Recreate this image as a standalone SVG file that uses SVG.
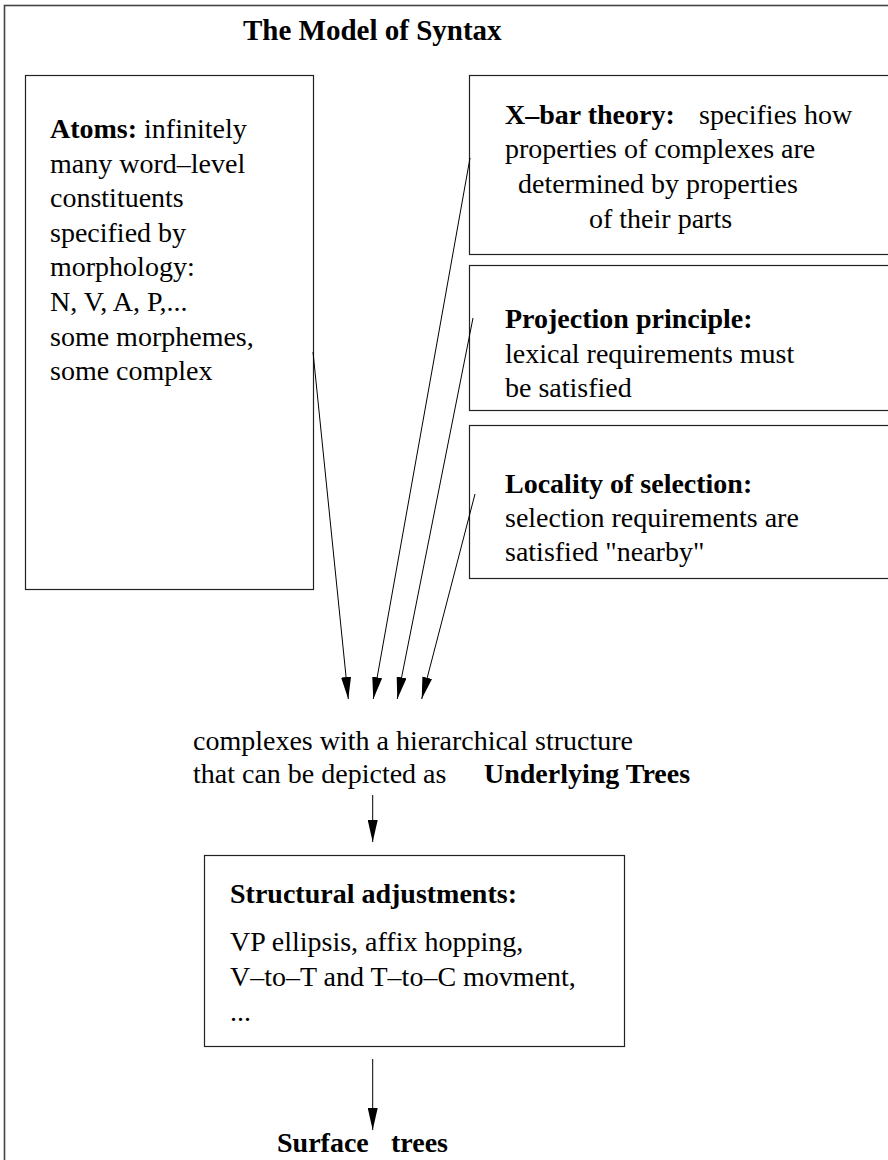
<svg xmlns="http://www.w3.org/2000/svg" width="888" height="1160" viewBox="0 0 888 1160">
<defs>
<style>
.box{fill:#fff;stroke:#222;stroke-width:1.2}
.frame{fill:none;stroke:#444;stroke-width:1.6}
text{font-family:"Liberation Serif","Times New Roman",serif;font-size:28px;fill:#000}
.b{font-weight:bold}
.t{font-size:29px}
.conn{stroke:#000;stroke-width:1;fill:none;marker-end:url(#ah)}
</style>
<marker id="ah" markerUnits="userSpaceOnUse" markerWidth="22" markerHeight="10" refX="22" refY="5" orient="auto">
<path d="M0,0 L22,5 L0,10 z" fill="#000"/>
</marker>
</defs>
<rect width="888" height="1160" fill="#fff"/>
<rect class="frame" x="4.5" y="5.5" width="900" height="1170"/>
<g id="title"><text class="b t" x="243" y="40">The Model of Syntax</text></g>
<g id="atoms">
<rect class="box" x="25.5" y="75.5" width="288" height="514"/>
<text x="50" y="138"><tspan class="b">Atoms:</tspan> infinitely</text>
<text x="50" y="172.6">many word–level</text>
<text x="50" y="207.2">constituents</text>
<text x="50" y="241.8">specified by</text>
<text x="50" y="276.4">morphology:</text>
<text x="50" y="311">N, V, A, P,...</text>
<text x="50" y="345.6">some morphemes,</text>
<text x="50" y="380.2">some complex</text>
</g>
<g id="xbar">
<rect class="box" x="469.5" y="75.5" width="430" height="179"/>
<text x="505" y="124"><tspan class="b">X–bar theory:</tspan><tspan x="699">specifies how</tspan></text>
<text x="505" y="158">properties of complexes are</text>
<text x="518" y="193">determined by properties</text>
<text x="589" y="228">of their parts</text>
</g>
<g id="projection">
<rect class="box" x="469.5" y="265.5" width="430" height="145"/>
<text class="b" x="505" y="328">Projection principle:</text>
<text x="505" y="363">lexical requirements must</text>
<text x="505" y="397">be satisfied</text>
</g>
<g id="locality">
<rect class="box" x="469.5" y="425.5" width="430" height="153"/>
<text class="b" x="505" y="493">Locality of selection:</text>
<text x="505" y="527">selection requirements are</text>
<text x="505" y="561">satisfied "nearby"</text>
</g>
<g id="underlying">
<text x="193" y="750">complexes with a hierarchical structure</text>
<text x="193" y="783">that can be depicted as</text>
<text class="b" x="484" y="783">Underlying Trees</text>
</g>
<g id="structural">
<rect class="box" x="204.5" y="855.5" width="420" height="191"/>
<text class="b" x="230" y="903">Structural adjustments:</text>
<text x="230" y="951">VP ellipsis, affix hopping,</text>
<text x="230" y="986">V–to–T and T–to–C movment,</text>
<text x="230" y="1021">...</text>
</g>
<g id="surface">
<text class="b" x="277" y="1152">Surface<tspan x="391">trees</tspan></text>
</g>
<g id="connectors">
<line class="conn" x1="313" y1="352" x2="348.3" y2="699"/>
<line class="conn" x1="470" y1="158" x2="373.3" y2="699"/>
<line class="conn" x1="473" y1="318" x2="397.3" y2="699"/>
<line class="conn" x1="475" y1="494" x2="421.7" y2="699"/>
<line class="conn" x1="372.7" y1="795" x2="372.7" y2="842"/>
<line class="conn" x1="372.7" y1="1059" x2="372.7" y2="1130"/>
</g>
</svg>
